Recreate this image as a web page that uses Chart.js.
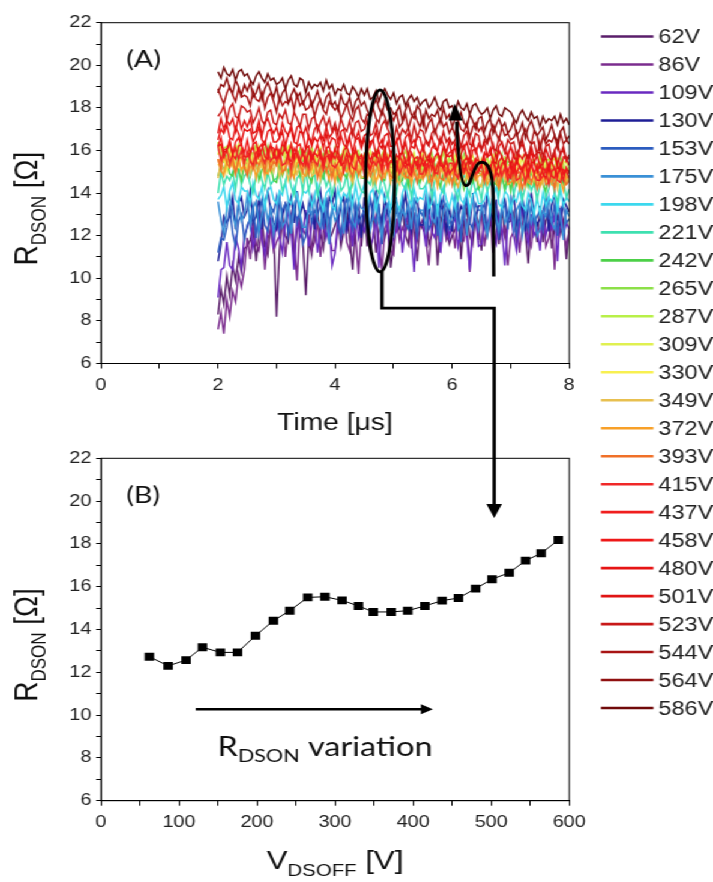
<!DOCTYPE html>
<html><head><meta charset="utf-8">
<script src="https://cdn.jsdelivr.net/npm/chart.js@4.4.1/dist/chart.umd.min.js"></script>
<style>
html,body{margin:0;padding:0;background:#fff;overflow:hidden;width:713px;height:882px;}
#wrap{position:absolute;left:0;top:0;width:594px;height:882px;transform:scale(1.2003,1);transform-origin:0 0;}
#wrap canvas{position:absolute;left:0;top:0;}
</style></head><body>
<div id="wrap"><canvas id="cA" width="594" height="882"></canvas><canvas id="cB" width="594" height="882"></canvas></div>
<script>
// ---------------- DATA ----------------
const vdsoff = [62,86,109,130,153,175,198,221,242,265,287,309,330,349,372,393,415,437,458,480,501,523,544,564,586];
const rdsonMean = [12.73,12.30,12.57,13.17,12.93,12.93,13.71,14.41,14.88,15.50,15.53,15.36,15.10,14.82,14.82,14.88,15.10,15.35,15.47,15.91,16.35,16.65,17.22,17.56,18.18];
const legendLabels = vdsoff.map(v => v + 'V');
const traceColors = ['#5a1e6a','#7b2d8e','#6a2ac0','#1e1e96','#2c5cbf','#3a90d6','#3cd8ee','#3ee0b0','#4cd048','#8ce048','#b8f048','#e0f050','#f8f050','#e8c050','#f8a028','#f07028','#f02828','#f01e1e','#ee1818','#e61414','#e01414','#c81818','#a81414','#901010','#700a0a'];
const times = [2.00,2.05,2.10,2.15,2.20,2.25,2.30,2.35,2.40,2.45,2.50,2.55,2.60,2.65,2.70,2.75,2.80,2.85,2.90,2.95,3.00,3.05,3.10,3.15,3.20,3.25,3.30,3.35,3.40,3.45,3.50,3.55,3.60,3.65,3.70,3.75,3.80,3.85,3.90,3.95,4.00,4.05,4.10,4.15,4.20,4.25,4.30,4.35,4.40,4.45,4.50,4.55,4.60,4.65,4.70,4.75,4.80,4.85,4.90,4.95,5.00,5.05,5.10,5.15,5.20,5.25,5.30,5.35,5.40,5.45,5.50,5.55,5.60,5.65,5.70,5.75,5.80,5.85,5.90,5.95,6.00,6.05,6.10,6.15,6.20,6.25,6.30,6.35,6.40,6.45,6.50,6.55,6.60,6.65,6.70,6.75,6.80,6.85,6.90,6.95,7.00,7.05,7.10,7.15,7.20,7.25,7.30,7.35,7.40,7.45,7.50,7.55,7.60,7.65,7.70,7.75,7.80,7.85,7.90,7.95,8.00];
const r62 = [8.3,9.5,8.8,10.1,9.2,10.6,9.9,11.0,10.3,11.4, 11.5,11.8,12.5,10.8,12.1,12.8,11.5,11.1,12.5,12.1, 8.2,11.3,13.0,12.0,11.7,12.7,11.0,12.3,12.7,11.7, 9.2,11.8,11.1,12.4,13.1,12.1,11.4,12.8,11.8,12.1, 12.5,12.9,11.5,12.2,13.2,11.9,10.4,12.5,12.9,11.5, 13.2,11.5,12.5,12.9,11.2,12.2,12.9,11.9,12.5,10.5, 11.6,12.6,12.3,13.3,12.0,11.6,13.0,12.3,10.8,12.6, 12.3,13.3,11.6,12.0,13.0,10.6,12.6,13.3,12.3,11.6, 12.0,12.3,13.0,10.9,12.6,13.3,12.0,11.6,13.0,12.6, 11.3,13.0,12.0,12.6,12.3,13.0,11.6,13.3,12.0,12.6, 12.7,13.1,11.7,12.4,13.4,12.1,10.7,12.7,13.1,11.7, 13.4,11.7,12.7,13.1,11.4,12.4,13.1,12.1,12.7,10.9, 12.4];
const r86 = [7.6,8.4,7.4,9.0,8.2,9.4,8.9,10.2,9.6,10.4, 11.9,10.9,12.6,11.6,11.3,12.3,10.4,11.9,12.3,11.3, 11.7,12.0,12.7,11.0,12.3,13.0,11.7,9.9,12.7,12.3, 12.0,13.0,11.3,11.7,12.7,11.0,12.3,13.0,12.0,11.3, 11.3,12.3,12.0,13.0,11.7,11.3,12.7,12.0,10.2,12.3, 12.3,12.7,11.3,12.0,13.0,11.7,10.4,12.3,12.7,11.3, 11.1,12.8,11.8,12.4,12.1,12.8,11.4,13.1,11.8,12.4, 12.8,11.8,10.6,12.4,13.1,12.1,11.4,12.8,11.8,12.1, 12.4,11.4,13.1,12.1,11.8,12.8,10.3,12.4,12.8,11.8, 13.2,11.5,12.5,12.9,11.2,12.2,12.9,11.9,12.5,10.6, 11.9,12.2,12.9,11.2,12.5,13.2,11.9,11.5,12.9,12.5, 12.2,13.2,11.5,11.9,12.9,10.4,12.5,13.2,12.2,11.5, 12.2];
const r109 = [9.1,10.4,10.5,11.7,10.6,10.4,11.9,11.4,10.5,12.0, 12.4,12.8,11.4,12.1,13.1,11.8,11.1,12.4,12.8,11.4, 12.9,11.9,11.2,12.5,13.2,12.2,10.4,12.9,11.9,12.2, 13.2,11.5,12.5,12.9,11.2,12.2,12.9,11.9,12.5,10.6, 11.2,12.9,11.9,12.5,12.2,12.9,11.5,13.2,11.9,12.5, 12.2,13.2,11.5,11.9,12.9,10.5,12.5,13.2,12.2,11.5, 11.9,12.2,12.9,11.2,12.5,13.2,11.9,10.3,12.9,12.5, 12.5,11.5,13.2,12.2,11.9,12.9,11.2,12.5,12.9,11.9, 12.5,12.9,11.5,12.2,13.2,11.9,10.4,12.5,12.9,11.5, 11.6,12.6,12.3,13.3,12.0,11.6,13.0,12.3,10.6,12.6, 13.0,12.0,11.3,12.6,13.3,12.3,11.6,13.0,12.0,12.3, 11.3,13.0,12.0,12.6,12.3,13.0,10.8,13.3,12.0,12.6, 12.3];
const r130 = [10.8,11.6,12.9,12.6,12.9,13.8,12.3,13.5,13.8,12.9, 13.2,14.1,12.6,12.9,13.8,12.3,13.5,14.1,13.2,12.6, 12.3,13.8,12.9,13.5,13.2,13.8,12.6,14.1,12.9,13.5, 12.9,13.2,13.8,12.3,13.5,14.1,12.9,12.6,13.8,13.5, 14.1,12.6,13.5,13.8,12.3,13.2,13.8,12.9,13.5,11.9, 13.8,12.9,12.3,13.5,14.1,13.2,12.6,13.8,12.9,13.2, 13.4,13.7,12.5,13.1,14.0,12.8,12.2,13.4,13.7,12.5, 12.5,13.4,13.1,14.0,12.8,12.5,13.7,13.1,12.2,13.4, 12.2,13.7,12.8,13.4,13.1,13.7,12.5,14.0,12.8,13.4, 13.4,12.5,14.0,13.1,12.8,13.7,11.8,13.4,13.7,12.8, 13.1,14.0,12.5,12.8,13.7,12.2,13.4,14.0,13.1,12.5, 12.8,13.1,13.7,12.2,13.4,14.0,12.8,12.5,13.7,13.4, 13.1];
const r153 = [11.2,11.9,11.8,12.4,13.3,12.1,11.5,12.7,13.0,11.8, 12.5,12.8,13.4,11.9,13.1,13.7,12.5,12.2,13.4,13.1, 13.8,12.3,13.2,13.5,12.0,12.9,13.5,12.6,13.2,11.6, 12.0,13.5,12.6,13.2,12.9,13.5,12.3,13.8,12.6,13.2, 13.5,12.6,12.0,13.2,13.8,12.9,12.3,13.5,12.6,12.9, 13.2,12.3,13.8,12.9,12.6,13.5,11.6,13.2,13.5,12.6, 12.3,13.2,12.9,13.8,12.6,12.3,13.5,12.9,12.0,13.2, 12.9,13.8,12.3,12.6,13.5,12.0,13.2,13.8,12.9,12.3, 12.6,12.9,13.5,11.7,13.2,13.8,12.6,12.3,13.5,13.2, 13.2,13.5,12.3,12.9,13.8,12.6,12.0,13.2,13.5,12.3, 13.5,12.6,12.0,13.2,13.8,12.9,12.3,13.5,12.6,12.9, 13.2,12.3,13.8,12.9,12.6,13.5,12.0,13.2,13.5,12.6, 12.8];
const r175 = [13.6,12.7,12.1,13.3,13.9,13.0,12.4,13.6,12.7,13.0, 13.9,12.4,13.3,13.6,12.1,13.0,13.6,12.7,13.3,12.1, 13.0,13.9,12.4,12.7,13.6,12.1,13.3,13.9,13.0,12.4, 12.4,13.3,13.0,13.9,12.7,12.4,13.6,13.0,11.6,13.3, 12.7,13.0,13.6,12.1,13.3,13.9,12.7,12.4,13.6,13.3, 13.2,13.5,12.3,12.9,13.8,12.6,12.0,13.2,13.5,12.3, 12.0,13.5,12.6,13.2,12.9,13.5,12.3,13.8,12.6,13.2, 13.2,12.3,13.8,12.9,12.6,13.5,11.7,13.2,13.5,12.6, 12.9,13.8,12.3,12.6,13.5,12.0,13.2,13.8,12.9,12.3, 13.5,12.6,12.0,13.2,13.8,12.9,12.3,13.5,12.6,12.9, 13.8,12.3,13.2,13.5,12.0,12.9,13.5,12.6,13.2,12.0, 12.3,13.2,12.9,13.8,12.6,12.3,13.5,12.9,11.8,13.2, 12.9];
const r198 = [13.7,13.9,14.3,13.3,14.1,14.5,13.7,13.5,14.3,14.1, 14.1,13.5,14.5,13.9,13.7,14.3,13.3,14.1,14.3,13.7, 13.5,14.1,13.9,14.5,13.7,13.5,14.3,13.9,13.3,14.1, 14.0,14.2,13.4,13.8,14.4,13.6,13.2,14.0,14.2,13.4, 13.2,14.2,13.6,14.0,13.8,14.2,13.4,14.4,13.6,14.0, 14.4,13.4,14.0,14.2,13.2,13.8,14.2,13.6,14.0,13.2, 14.2,13.6,13.2,14.0,14.4,13.8,13.4,14.2,13.6,13.8, 13.7,14.3,13.3,13.5,14.1,13.1,13.9,14.3,13.7,13.3, 13.9,13.3,14.3,13.7,13.5,14.1,13.1,13.9,14.1,13.5, 13.5,13.7,14.1,13.1,13.9,14.3,13.5,13.3,14.1,13.9, 13.2,13.8,13.6,14.2,13.4,13.2,14.0,13.6,13.0,13.8, 13.0,14.0,13.4,13.8,13.6,14.0,13.2,14.2,13.4,13.8, 13.6];
const r221 = [14.0,15.0,14.4,14.8,14.6,15.0,14.2,15.2,14.4,14.8, 15.0,14.4,14.0,14.8,15.2,14.6,14.2,15.0,14.4,14.6, 14.7,14.9,14.1,14.5,15.1,14.3,13.9,14.7,14.9,14.1, 15.1,14.1,14.7,14.9,13.9,14.5,14.9,14.3,14.7,13.9, 14.5,15.1,14.1,14.3,14.9,13.9,14.7,15.1,14.5,14.1, 14.0,14.6,14.4,15.0,14.2,14.0,14.8,14.4,13.8,14.6, 14.6,14.0,15.0,14.4,14.2,14.8,13.8,14.6,14.8,14.2, 14.2,14.4,14.8,13.8,14.6,15.0,14.2,14.0,14.8,14.6, 14.7,14.1,13.7,14.5,14.9,14.3,13.9,14.7,14.1,14.3, 13.7,14.7,14.1,14.5,14.3,14.7,13.9,14.9,14.1,14.5, 14.9,13.9,14.5,14.7,13.7,14.3,14.7,14.1,14.5,13.7, 14.4,14.6,13.8,14.2,14.8,14.0,13.6,14.4,14.6,13.8, 14.2];
const r242 = [14.8,15.3,15.1,15.6,14.9,14.8,15.4,15.1,14.6,15.3, 15.6,14.8,15.3,15.4,14.6,15.1,15.4,14.9,15.3,14.6, 14.5,15.3,14.8,15.2,15.0,15.3,14.7,15.5,14.8,15.2, 15.3,14.8,14.5,15.2,15.5,15.0,14.7,15.3,14.8,15.0, 15.1,14.6,15.4,14.9,14.7,15.2,14.4,15.1,15.2,14.7, 14.7,14.9,15.2,14.4,15.1,15.4,14.7,14.6,15.2,15.1, 14.8,15.3,14.5,14.6,15.1,14.3,15.0,15.3,14.8,14.5, 15.0,15.1,14.5,14.8,15.3,14.6,14.3,15.0,15.1,14.5, 15.2,14.4,14.9,15.0,14.2,14.7,15.0,14.5,14.9,14.2, 14.4,14.9,14.7,15.2,14.5,14.4,15.0,14.7,14.2,14.9, 14.1,14.9,14.4,14.8,14.6,14.9,14.3,15.1,14.4,14.8, 14.9,14.4,14.1,14.8,15.1,14.6,14.3,14.9,14.4,14.6, 14.6];
const r265 = [16.0,16.1,15.5,15.8,16.3,15.6,15.3,16.0,16.1,15.5, 15.2,16.0,15.5,15.9,15.7,16.0,15.4,16.2,15.5,15.9, 15.9,15.4,16.2,15.7,15.5,16.0,15.2,15.9,16.0,15.5, 15.6,16.1,15.3,15.4,15.9,15.1,15.8,16.1,15.6,15.3, 16.1,15.3,15.8,15.9,15.1,15.6,15.9,15.4,15.8,15.1, 15.8,15.3,15.0,15.7,16.0,15.5,15.2,15.8,15.3,15.5, 15.2,15.4,15.7,14.9,15.6,15.9,15.2,15.1,15.7,15.6, 15.1,15.6,15.4,15.9,15.2,15.1,15.7,15.4,14.9,15.6, 15.5,15.6,15.0,15.3,15.8,15.1,14.8,15.5,15.6,15.0, 14.8,15.6,15.1,15.5,15.3,15.6,15.0,15.8,15.1,15.5, 15.4,14.9,15.7,15.2,15.0,15.5,14.7,15.4,15.5,15.0, 15.2,15.7,14.9,15.0,15.5,14.7,15.4,15.7,15.2,14.9, 15.1];
const r287 = [16.4,15.6,16.1,16.2,15.4,15.9,16.2,15.7,16.1,15.4, 15.5,16.0,15.8,16.3,15.6,15.5,16.1,15.8,15.3,16.0, 15.6,15.8,16.1,15.3,16.0,16.3,15.6,15.5,16.1,16.0, 15.9,15.4,16.2,15.7,15.5,16.0,15.2,15.9,16.0,15.5, 15.9,16.0,15.4,15.7,16.2,15.5,15.2,15.9,16.0,15.4, 15.6,16.1,15.3,15.4,15.9,15.1,15.8,16.1,15.6,15.3, 15.8,15.3,15.0,15.7,16.0,15.5,15.2,15.8,15.3,15.5, 15.0,15.8,15.3,15.7,15.5,15.8,15.2,16.0,15.3,15.7, 15.1,15.6,15.4,15.9,15.2,15.1,15.7,15.4,14.9,15.6, 15.2,15.4,15.7,14.9,15.6,15.9,15.2,15.1,15.7,15.6, 15.5,15.0,15.8,15.3,15.1,15.6,14.8,15.5,15.6,15.1, 15.8,15.0,15.5,15.6,14.8,15.3,15.6,15.1,15.5,14.8, 15.2];
const r309 = [15.8,16.3,15.5,15.6,16.1,15.3,16.0,16.3,15.8,15.5, 15.9,16.0,15.4,15.7,16.2,15.5,15.2,15.9,16.0,15.4, 16.0,15.5,15.2,15.9,16.2,15.7,15.4,16.0,15.5,15.7, 15.4,15.6,15.9,15.1,15.8,16.1,15.4,15.3,15.9,15.8, 15.3,15.8,15.6,16.1,15.4,15.3,15.9,15.6,15.1,15.8, 15.7,15.2,16.0,15.5,15.3,15.8,15.0,15.7,15.8,15.3, 14.9,15.7,15.2,15.6,15.4,15.7,15.1,15.9,15.2,15.6, 15.9,15.1,15.6,15.7,14.9,15.4,15.7,15.2,15.6,14.9, 15.3,15.8,15.0,15.1,15.6,14.8,15.5,15.8,15.3,15.0, 15.6,15.1,14.8,15.5,15.8,15.3,15.0,15.6,15.1,15.3, 15.4,15.5,14.9,15.2,15.7,15.0,14.7,15.4,15.5,14.9, 15.0,15.2,15.5,14.7,15.4,15.7,15.0,14.9,15.5,15.4, 15.1];
const r330 = [15.3,15.5,15.8,15.0,15.7,16.0,15.3,15.2,15.8,15.7, 15.2,15.7,15.5,16.0,15.3,15.2,15.8,15.5,15.0,15.7, 15.6,15.7,15.1,15.4,15.9,15.2,14.9,15.6,15.7,15.1, 15.7,15.2,14.9,15.6,15.9,15.4,15.1,15.7,15.2,15.4, 14.8,15.6,15.1,15.5,15.3,15.6,15.0,15.8,15.1,15.5, 15.3,15.8,15.0,15.1,15.6,14.8,15.5,15.8,15.3,15.0, 15.4,14.9,15.7,15.2,15.0,15.5,14.7,15.4,15.5,15.0, 15.7,14.9,15.4,15.5,14.7,15.2,15.5,15.0,15.4,14.7, 15.0,15.2,15.5,14.7,15.4,15.7,15.0,14.9,15.5,15.4, 15.3,15.4,14.8,15.1,15.6,14.9,14.6,15.3,15.4,14.8, 14.8,15.3,15.1,15.6,14.9,14.8,15.4,15.1,14.6,15.3, 15.3,14.8,14.5,15.2,15.5,15.0,14.7,15.3,14.8,15.0, 15.0];
const r349 = [14.7,15.5,15.0,15.4,15.2,15.5,14.9,15.7,15.0,15.4, 15.4,14.9,15.7,15.2,15.0,15.5,14.7,15.4,15.5,15.0, 15.6,14.8,15.3,15.4,14.6,15.1,15.4,14.9,15.3,14.6, 15.1,15.6,14.8,14.9,15.4,14.6,15.3,15.6,15.1,14.8, 15.2,15.3,14.7,15.0,15.5,14.8,14.5,15.2,15.3,14.7, 14.8,15.0,15.3,14.5,15.2,15.5,14.8,14.7,15.3,15.2, 15.2,14.7,14.4,15.1,15.4,14.9,14.6,15.2,14.7,14.9, 14.6,15.1,14.9,15.4,14.7,14.6,15.2,14.9,14.4,15.1, 15.4,14.6,15.1,15.2,14.4,14.9,15.2,14.7,15.1,14.4, 14.3,15.1,14.6,15.0,14.8,15.1,14.5,15.3,14.6,15.0, 14.8,15.3,14.5,14.6,15.1,14.3,15.0,15.3,14.8,14.5, 14.9,14.4,15.2,14.7,14.5,15.0,14.2,14.9,15.0,14.5, 14.7];
const r372 = [15.6,15.1,14.8,15.5,15.8,15.3,15.0,15.6,15.1,15.3, 15.0,15.2,15.5,14.7,15.4,15.7,15.0,14.9,15.5,15.4, 15.4,15.5,14.9,15.2,15.7,15.0,14.7,15.4,15.5,14.9, 14.8,15.3,15.1,15.6,14.9,14.8,15.4,15.1,14.6,15.3, 14.5,15.3,14.8,15.2,15.0,15.3,14.7,15.5,14.8,15.2, 15.5,14.7,15.2,15.3,14.5,15.0,15.3,14.8,15.2,14.5, 15.1,14.6,15.4,14.9,14.7,15.2,14.4,15.1,15.2,14.7, 14.8,15.3,14.5,14.6,15.1,14.3,15.0,15.3,14.8,14.5, 15.1,14.6,14.3,15.0,15.3,14.8,14.5,15.1,14.6,14.8, 14.9,15.0,14.4,14.7,15.2,14.5,14.2,14.9,15.0,14.4, 14.5,14.7,15.0,14.2,14.9,15.2,14.5,14.4,15.0,14.9, 14.3,14.8,14.6,15.1,14.4,14.3,14.9,14.6,14.1,14.8, 14.6];
const r393 = [15.6,15.1,15.9,15.4,15.2,15.7,14.9,15.6,15.7,15.2, 14.8,15.6,15.1,15.5,15.3,15.6,15.0,15.8,15.1,15.5, 15.3,15.8,15.0,15.1,15.6,14.8,15.5,15.8,15.3,15.0, 15.7,14.9,15.4,15.5,14.7,15.2,15.5,15.0,15.4,14.7, 15.4,14.9,14.6,15.3,15.6,15.1,14.8,15.4,14.9,15.1, 15.3,15.4,14.8,15.1,15.6,14.9,14.6,15.3,15.4,14.8, 14.7,15.2,15.0,15.5,14.8,14.7,15.3,15.0,14.5,15.2, 14.7,14.9,15.2,14.4,15.1,15.4,14.7,14.6,15.2,15.1, 14.4,15.2,14.7,15.1,14.9,15.2,14.6,15.4,14.7,15.1, 15.0,14.5,15.3,14.8,14.6,15.1,14.3,15.0,15.1,14.6, 15.2,14.4,14.9,15.0,14.2,14.7,15.0,14.5,14.9,14.2, 14.7,15.2,14.4,14.5,15.0,14.2,14.9,15.2,14.7,14.4, 14.6];
const r415 = [16.2,15.5,16.0,16.1,15.4,15.8,16.1,15.6,16.0,15.4, 16.0,15.5,15.3,15.9,16.1,15.7,15.4,16.0,15.5,15.7, 15.6,16.0,15.3,15.4,15.9,15.2,15.8,16.0,15.6,15.3, 15.7,15.2,15.9,15.5,15.3,15.8,15.1,15.7,15.8,15.3, 15.2,15.4,15.7,15.0,15.6,15.8,15.2,15.1,15.7,15.6, 14.9,15.6,15.1,15.5,15.3,15.6,15.0,15.7,15.1,15.5, 15.4,15.5,14.9,15.2,15.6,15.0,14.8,15.4,15.5,14.9, 14.9,15.4,15.2,15.6,15.0,14.9,15.5,15.2,14.8,15.4, 15.4,14.9,14.7,15.3,15.5,15.1,14.8,15.4,14.9,15.1, 15.4,14.7,15.2,15.3,14.6,15.0,15.3,14.8,15.2,14.6, 14.9,15.3,14.6,14.7,15.2,14.5,15.1,15.3,14.9,14.6, 14.6,14.8,15.1,14.4,15.0,15.2,14.6,14.5,15.1,15.0, 14.7];
const r437 = [16.2,16.3,15.7,16.0,16.4,15.8,15.6,16.2,16.3,15.7, 15.7,15.9,16.2,15.5,16.1,16.3,15.7,15.6,16.2,16.1, 15.5,16.0,15.8,16.2,15.6,15.5,16.1,15.8,15.4,16.0, 15.3,16.0,15.5,15.9,15.7,16.0,15.4,16.1,15.5,15.9, 15.6,16.0,15.3,15.4,15.9,15.2,15.8,16.0,15.6,15.3, 15.8,15.3,15.1,15.7,15.9,15.5,15.2,15.8,15.3,15.5, 15.6,15.1,15.8,15.4,15.2,15.7,15.0,15.6,15.7,15.2, 15.7,15.0,15.5,15.6,14.9,15.3,15.6,15.1,15.5,14.9, 15.1,15.3,15.6,14.9,15.5,15.7,15.1,15.0,15.6,15.5, 15.4,15.5,14.9,15.2,15.6,15.0,14.8,15.4,15.5,14.9, 14.7,15.4,14.9,15.3,15.1,15.4,14.8,15.5,14.9,15.3, 14.7,15.2,15.0,15.4,14.8,14.7,15.3,15.0,14.6,15.2, 14.9];
const r458 = [16.2,16.6,15.9,16.0,16.5,15.8,16.4,16.6,16.2,15.9, 16.5,15.8,16.3,16.4,15.7,16.1,16.4,15.9,16.3,15.7, 16.2,15.7,16.4,16.0,15.8,16.3,15.6,16.2,16.3,15.8, 16.1,16.2,15.6,15.9,16.3,15.7,15.5,16.1,16.2,15.6, 16.1,15.6,15.4,16.0,16.2,15.8,15.5,16.1,15.6,15.8, 15.3,16.0,15.5,15.9,15.7,16.0,15.4,16.1,15.5,15.9, 15.3,15.8,15.6,16.0,15.4,15.3,15.9,15.6,15.2,15.8, 15.3,15.5,15.8,15.1,15.7,15.9,15.3,15.2,15.8,15.7, 15.8,15.1,15.6,15.7,15.0,15.4,15.7,15.2,15.6,15.0, 15.3,15.7,15.0,15.1,15.6,14.9,15.5,15.7,15.3,15.0, 15.4,14.9,15.6,15.2,15.0,15.5,14.8,15.4,15.5,15.0, 15.4,14.9,14.7,15.3,15.5,15.1,14.8,15.4,14.9,15.1, 15.0];
const r480 = [16.5,17.0,16.8,17.2,16.6,16.5,17.1,16.8,16.4,17.0, 16.9,17.0,16.4,16.7,17.1,16.5,16.3,16.9,17.0,16.4, 16.4,16.6,16.9,16.2,16.8,17.0,16.4,16.3,16.9,16.8, 16.0,16.7,16.2,16.6,16.4,16.7,16.1,16.8,16.2,16.6, 16.5,16.0,16.7,16.3,16.1,16.6,15.9,16.5,16.6,16.1, 16.6,15.9,16.4,16.5,15.8,16.2,16.5,16.0,16.4,15.8, 16.1,16.5,15.8,15.9,16.4,15.7,16.3,16.5,16.1,15.8, 16.2,15.7,15.5,16.1,16.3,15.9,15.6,16.2,15.7,15.9, 16.0,16.1,15.5,15.8,16.2,15.6,15.4,16.0,16.1,15.5, 15.4,15.9,15.7,16.1,15.5,15.4,16.0,15.7,15.3,15.9, 15.2,15.9,15.4,15.8,15.6,15.9,15.3,16.0,15.4,15.8, 15.2,15.4,15.7,15.0,15.6,15.8,15.2,15.1,15.7,15.6, 15.3];
const r501 = [16.8,17.5,17.0,17.4,17.2,17.5,16.9,17.6,17.0,17.4, 17.1,17.5,16.8,16.9,17.4,16.7,17.3,17.5,17.1,16.8, 17.1,16.6,17.3,16.9,16.7,17.2,16.5,17.1,17.2,16.7, 17.1,16.6,16.4,17.0,17.2,16.8,16.5,17.1,16.6,16.8, 17.1,16.4,16.9,17.0,16.3,16.7,17.0,16.5,16.9,16.3, 16.7,16.8,16.2,16.5,16.9,16.3,16.1,16.7,16.8,16.2, 16.2,16.4,16.7,16.0,16.6,16.8,16.2,16.1,16.7,16.6, 16.0,16.5,16.3,16.7,16.1,16.0,16.6,16.3,15.9,16.5, 15.7,16.4,15.9,16.3,16.1,16.4,15.8,16.5,15.9,16.3, 16.0,16.4,15.7,15.8,16.3,15.6,16.2,16.4,16.0,15.7, 16.2,15.7,15.5,16.1,16.3,15.9,15.6,16.2,15.7,15.9, 15.9,15.4,16.1,15.7,15.5,16.0,15.3,15.9,16.0,15.5, 15.7];
const r523 = [17.6,17.8,18.1,17.4,18.0,18.2,17.6,17.5,18.1,18.0, 17.8,17.9,17.3,17.6,18.0,17.4,17.2,17.8,17.9,17.3, 17.2,17.7,17.5,17.9,17.3,17.2,17.8,17.5,17.1,17.7, 17.7,17.0,17.5,17.6,16.9,17.3,17.6,17.1,17.5,16.9, 17.3,16.8,17.5,17.1,16.9,17.4,16.7,17.3,17.4,16.9, 17.0,17.4,16.7,16.8,17.3,16.6,17.2,17.4,17.0,16.7, 16.4,17.1,16.6,17.0,16.8,17.1,16.5,17.2,16.6,17.0, 16.9,16.4,16.2,16.8,17.0,16.6,16.3,16.9,16.4,16.6, 16.3,16.5,16.8,16.1,16.7,16.9,16.3,16.2,16.8,16.7, 16.0,16.5,16.3,16.7,16.1,16.0,16.6,16.3,15.9,16.5, 16.3,16.4,15.8,16.1,16.5,15.9,15.7,16.3,16.4,15.8, 16.4,15.7,16.2,16.3,15.6,16.0,16.3,15.8,16.2,15.6, 15.8];
const r544 = [18.9,18.5,18.2,18.7,19.0,18.6,18.3,18.9,18.5,18.6, 18.5,18.1,18.8,18.4,18.3,18.7,18.0,18.5,18.7,18.3, 17.8,18.5,18.1,18.3,18.2,18.5,17.9,18.6,18.1,18.3, 17.9,18.0,18.3,17.6,18.1,18.4,17.9,17.7,18.3,18.1, 17.9,18.1,17.5,17.8,18.2,17.7,17.4,17.9,18.1,17.5, 17.3,17.7,17.6,18.0,17.5,17.3,17.9,17.6,17.2,17.7, 17.4,17.8,17.1,17.3,17.7,17.0,17.5,17.8,17.4,17.1, 17.6,16.9,17.3,17.5,16.8,17.2,17.5,17.1,17.3,16.8, 17.1,16.7,17.4,17.0,16.9,17.3,16.6,17.1,17.3,16.9, 17.1,16.7,16.4,16.9,17.2,16.8,16.5,17.1,16.7,16.8, 16.5,16.6,16.9,16.2,16.7,17.0,16.5,16.3,16.9,16.7, 16.0,16.7,16.3,16.5,16.4,16.7,16.1,16.8,16.3,16.5, 16.3];
const r564 = [18.7,19.1,19.0,19.4,18.9,18.7,19.3,19.0,18.6,19.1, 18.8,19.2,18.5,18.7,19.1,18.4,18.9,19.2,18.8,18.5, 19.0,18.3,18.7,18.9,18.2,18.6,18.9,18.5,18.7,18.2, 18.5,18.7,18.1,18.4,18.8,18.3,18.0,18.5,18.7,18.1, 18.3,17.9,18.6,18.2,18.1,18.5,17.8,18.3,18.5,18.1, 18.3,17.9,17.6,18.1,18.4,18.0,17.7,18.3,17.9,18.0, 17.7,17.8,18.1,17.4,17.9,18.2,17.7,17.5,18.1,17.9, 17.2,17.9,17.5,17.7,17.6,17.9,17.3,18.0,17.5,17.7, 17.1,17.5,17.4,17.8,17.3,17.1,17.7,17.4,17.0,17.5, 17.6,16.9,17.3,17.5,16.8,17.2,17.5,17.1,17.3,16.8, 17.0,17.4,16.7,16.9,17.3,16.6,17.1,17.4,17.0,16.7, 16.9,17.1,16.5,16.8,17.2,16.7,16.4,16.9,17.1,16.5, 16.7];
const r586 = [19.7,19.4,19.9,19.6,19.5,19.8,19.3,19.7,19.8,19.5, 19.6,19.3,19.1,19.5,19.7,19.4,19.2,19.6,19.3,19.4, 19.1,19.2,19.4,18.9,19.3,19.5,19.1,19.0,19.4,19.3, 18.7,19.2,18.9,19.1,19.0,19.2,18.8,19.3,18.9,19.1, 18.6,18.9,18.8,19.1,18.7,18.6,19.0,18.8,18.5,18.9, 18.6,18.9,18.4,18.5,18.8,18.3,18.7,18.9,18.6,18.4, 18.7,18.2,18.5,18.6,18.1,18.4,18.6,18.3,18.5,18.1, 18.3,18.4,18.0,18.2,18.5,18.1,17.9,18.3,18.4,18.0, 18.1,17.8,18.3,18.0,17.9,18.2,17.7,18.1,18.2,17.9, 17.7,17.8,18.0,17.5,17.9,18.1,17.7,17.6,18.0,17.9, 17.8,17.5,17.3,17.7,17.9,17.6,17.4,17.8,17.5,17.6, 17.1,17.6,17.3,17.5,17.4,17.6,17.2,17.7,17.3,17.5, 17.2];
const traces = [r62,r86,r109,r130,r153,r175,r198,r221,r242,r265,r287,r309,r330,r349,r372,r393,r415,r437,r458,r480,r501,r523,r544,r564,r586];

// ---------------- HELPERS ----------------
const SANS = '"Liberation Sans", Arial, sans-serif';
const HUM = 'Lato, "Open Sans", sans-serif';
function drawParts(ctx, parts, cx, y) {
  let total = 0;
  parts.forEach(p => { ctx.font = p[1]; total += ctx.measureText(p[0]).width; });
  let x = cx - total / 2;
  ctx.textAlign = 'left'; ctx.textBaseline = 'alphabetic';
  parts.forEach(p => { ctx.font = p[1]; ctx.fillText(p[0], x, y + p[2]); x += ctx.measureText(p[0]).width; });
}
function drawYTitle(ctx, x, cy) {
  ctx.save(); ctx.translate(x, cy); ctx.rotate(-Math.PI / 2);
  drawParts(ctx, [['R', '28px ' + SANS, 0], ['DSON', '17px ' + SANS, 6.7], [' [\u03A9]', '28px ' + SANS, 0]], 0, 0);
  ctx.restore();
}
const framePlugin = { id: 'frame', afterDraw(chart) {
  const c = chart.ctx, a = chart.chartArea;
  c.save(); c.strokeStyle = '#000'; c.lineWidth = 1;
  c.strokeRect(a.left, a.top, a.right - a.left, a.bottom - a.top); c.restore();
}};
function axisCommon(min, max, step, labelStep, tickLen, pad) {
  return {
    type: 'linear', min, max,
    ticks: { stepSize: step, autoSkip: false, maxRotation: 0, padding: pad, color: '#222', font: { family: SANS, size: 16.5 },
      callback: v => (Math.abs(v % labelStep) < 1e-9 ? String(v) : '') },
    grid: { display: true, drawOnChartArea: false, drawTicks: true, tickLength: tickLen, tickColor: '#000', tickWidth: 1 },
    border: { display: true, color: '#000', width: 1 }
  };
}
const PLOT_LEFT = 84.2, PLOT_RIGHT_PAD = 119.8;

// ---------------- CHART A ----------------
const annotA = { id: 'annotA', afterDraw(chart) {
  const ctx = chart.ctx, ca = chart.chartArea;
  ctx.save();
  ctx.fillStyle = '#111';
  ctx.font = '24px ' + HUM; ctx.textAlign = 'left'; ctx.textBaseline = 'middle';
  ctx.fillText('(A)', ca.left + 21, ca.top + 37);
  drawYTitle(ctx, 30.8, (ca.top + ca.bottom) / 2 + 15.5);
  ctx.font = '23.5px ' + SANS; ctx.textAlign = 'center'; ctx.textBaseline = 'alphabetic';
  ctx.fillText('Time [\u03BCs]', (ca.left + ca.right) / 2, ca.bottom + 66);
  chart.data.datasets.forEach((ds, i) => {
    const y = 36.5 + 27.98 * i;
    ctx.strokeStyle = ds.borderColor; ctx.lineWidth = 2.6;
    ctx.beginPath(); ctx.moveTo(ca.right + 26.4, y); ctx.lineTo(ca.right + 70.2, y); ctx.stroke();
    ctx.fillStyle = '#222'; ctx.font = '19.5px ' + SANS; ctx.textAlign = 'left'; ctx.textBaseline = 'middle';
    ctx.fillText(ds.label, ca.right + 74.4, y + 1.5);
  });
  ctx.restore();
}};
const xA = axisCommon(0, 8, 1, 2, 5, 7);
xA.afterFit = s => { s.height = 30; s.paddingLeft = 0; s.paddingRight = 0; };
const yA = axisCommon(6, 22, 1, 2, 4, 4);
yA.afterFit = s => { s.width = PLOT_LEFT; s.paddingTop = 0; s.paddingBottom = 0; };
const chartA = new Chart(document.getElementById('cA'), {
  type: 'line',
  data: { datasets: traces.map((vals, i) => ({
    label: legendLabels[i],
    data: vals.map((y, k) => ({ x: times[k], y })),
    borderColor: traceColors[i], borderWidth: 1.45, pointRadius: 0, tension: 0, fill: false,
    order: traces.length - 1 - i
  })) },
  options: {
    responsive: false, animation: false, devicePixelRatio: 1, events: [],
    layout: { padding: { left: 0, right: PLOT_RIGHT_PAD, top: 22.7, bottom: 882 - 363.5 - 30 } },
    plugins: { legend: { display: false }, tooltip: { enabled: false } },
    scales: { x: xA, y: yA }
  },
  plugins: [framePlugin, annotA]
});

// ---------------- CHART B ----------------
const annotB = { id: 'annotB', afterDraw(chart) {
  const ctx = chart.ctx, ca = chart.chartArea;
  const xa = chartA.scales.x, ya = chartA.scales.y, xb = chart.scales.x, yb = chart.scales.y;
  ctx.save();
  ctx.fillStyle = '#111';
  ctx.font = '24px ' + HUM; ctx.textAlign = 'left'; ctx.textBaseline = 'middle';
  ctx.fillText('(B)', ca.left + 21, ca.top + 37.4);
  drawYTitle(ctx, 30.8, (ca.top + ca.bottom) / 2 + 15.5);
  drawParts(ctx, [['V', '26px ' + SANS, 0], ['DSOFF', '17px ' + SANS, 7], [' [V]', '26px ' + SANS, 0]], (ca.left + ca.right) / 2, ca.bottom + 68);
  drawParts(ctx, [['R', '27px ' + HUM, 0], ['DSON', '18px ' + HUM, 6], [' variation', '27px ' + HUM, 0]], xb.getPixelForValue(287), yb.getPixelForValue(8.09));
  ctx.strokeStyle = '#000'; ctx.fillStyle = '#000'; ctx.lineWidth = 2.4;
  const ay = yb.getPixelForValue(10.27), ax0 = xb.getPixelForValue(121.4), ax1 = xb.getPixelForValue(425.3);
  ctx.beginPath(); ctx.moveTo(ax0, ay); ctx.lineTo(ax1 - 8, ay); ctx.stroke();
  ctx.beginPath(); ctx.moveTo(ax1, ay); ctx.lineTo(ax1 - 10, ay - 5); ctx.lineTo(ax1 - 10, ay + 5); ctx.closePath(); ctx.fill();
  ctx.lineWidth = 2.8;
  const ex = xa.getPixelForValue(4.77), eTop = ya.getPixelForValue(18.84), eBot = ya.getPixelForValue(10.3);
  ctx.beginPath(); ctx.ellipse(ex, (eTop + eBot) / 2, 12, (eBot - eTop) / 2, 0, 0, Math.PI * 2); ctx.stroke();
  const stemX = ex + 1.5, hy = ya.getPixelForValue(8.6), dx = xb.getPixelForValue(503.8), tipY = yb.getPixelForValue(19.21);
  ctx.beginPath(); ctx.moveTo(stemX, eBot); ctx.lineTo(stemX, hy); ctx.lineTo(dx, hy); ctx.lineTo(dx, tipY - 10); ctx.stroke();
  ctx.beginPath(); ctx.moveTo(dx, tipY); ctx.lineTo(dx - 6.5, tipY - 14); ctx.lineTo(dx + 6.5, tipY - 14); ctx.closePath(); ctx.fill();
  const wx = xa.getPixelForValue(6.71), wy = ya.getPixelForValue(10.08);
  const P = (px, py) => [wx + (px - 493) / 1.2, wy + (py - 277)];
  ctx.beginPath();
  let p = P(493, 277); ctx.moveTo(p[0], p[1]);
  p = P(492.5, 198); ctx.lineTo(p[0], p[1]);
  let c1 = P(492, 168), c2 = P(486, 161), e = P(479, 163); ctx.bezierCurveTo(c1[0], c1[1], c2[0], c2[1], e[0], e[1]);
  c1 = P(472, 165); c2 = P(471, 187); e = P(465, 186); ctx.bezierCurveTo(c1[0], c1[1], c2[0], c2[1], e[0], e[1]);
  c1 = P(459, 185); c2 = P(457, 150); e = P(456, 122); ctx.bezierCurveTo(c1[0], c1[1], c2[0], c2[1], e[0], e[1]);
  ctx.stroke();
  const t0 = P(454, 104), b1 = P(448, 121), b2 = P(462, 121);
  ctx.beginPath(); ctx.moveTo(t0[0], t0[1]); ctx.lineTo(b1[0], b1[1]); ctx.lineTo(b2[0], b2[1]); ctx.closePath(); ctx.fill();
  ctx.restore();
}};
const xB = axisCommon(0, 600, 50, 100, 5, 7);
xB.afterFit = s => { s.height = 30; s.paddingLeft = 0; s.paddingRight = 0; };
const yB = axisCommon(6, 22, 1, 2, 4, 4);
yB.afterFit = s => { s.width = PLOT_LEFT; s.paddingTop = 0; s.paddingBottom = 0; };
const chartB = new Chart(document.getElementById('cB'), {
  type: 'line',
  data: { datasets: [{
    label: 'RDSON',
    data: vdsoff.map((v, i) => ({ x: v, y: rdsonMean[i] })),
    borderColor: '#000', borderWidth: 1, tension: 0, fill: false,
    pointStyle: 'rect', pointRadius: 5.6, pointBackgroundColor: '#000', pointBorderColor: '#000', pointBorderWidth: 0
  }] },
  options: {
    responsive: false, animation: false, devicePixelRatio: 1, events: [],
    layout: { padding: { left: 0, right: PLOT_RIGHT_PAD, top: 458.3, bottom: 882 - 800.7 - 30 } },
    plugins: { legend: { display: false }, tooltip: { enabled: false } },
    scales: { x: xB, y: yB }
  },
  plugins: [framePlugin, annotB]
});
</script>
</body></html>
